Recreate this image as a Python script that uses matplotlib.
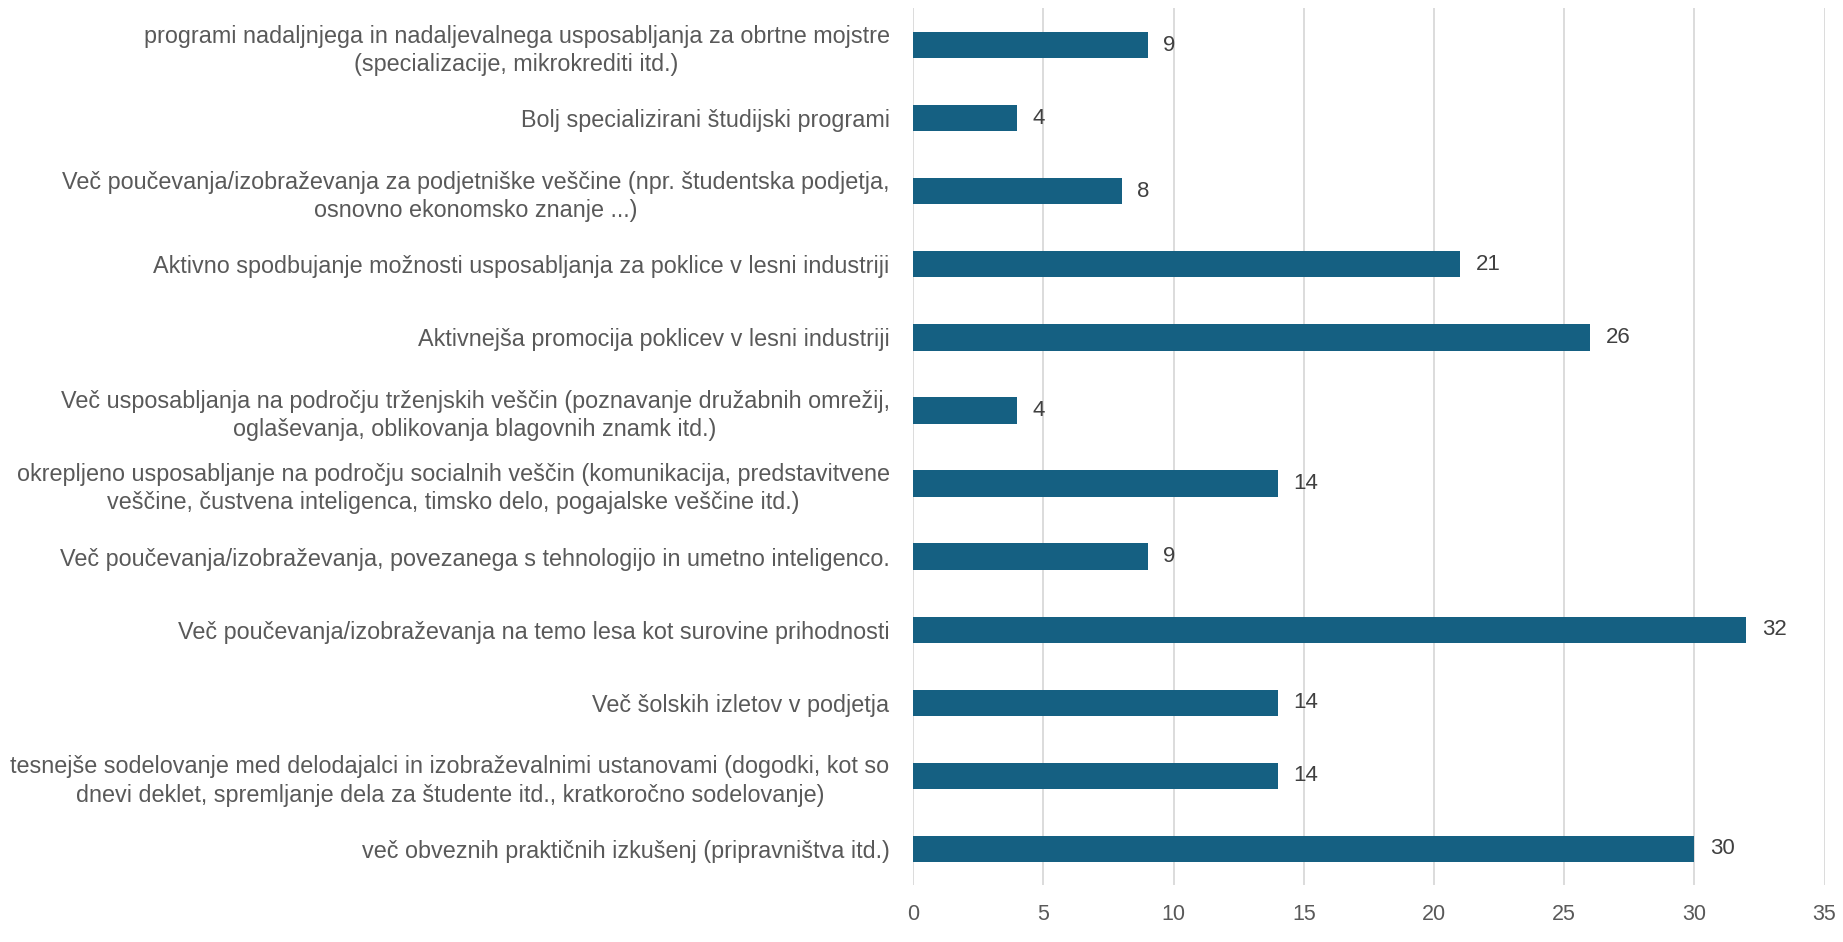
import numpy as np
import matplotlib.pyplot as plt

labels = [
    "programi nadaljnjega in nadaljevalnega usposabljanja za obrtne mojstre\n(specializacije, mikrokrediti itd.)",
    "Bolj specializirani študijski programi",
    "Več poučevanja/izobraževanja za podjetniške veščine (npr. študentska podjetja,\nosnovno ekonomsko znanje ...)",
    "Aktivno spodbujanje možnosti usposabljanja za poklice v lesni industriji",
    "Aktivnejša promocija poklicev v lesni industriji",
    "Več usposabljanja na področju trženjskih veščin (poznavanje družabnih omrežij,\noglaševanja, oblikovanja blagovnih znamk itd.)",
    "okrepljeno usposabljanje na področju socialnih veščin (komunikacija, predstavitvene\nveščine, čustvena inteligenca, timsko delo, pogajalske veščine itd.)",
    "Več poučevanja/izobraževanja, povezanega s tehnologijo in umetno inteligenco.",
    "Več poučevanja/izobraževanja na temo lesa kot surovine prihodnosti",
    "Več šolskih izletov v podjetja",
    "tesnejše sodelovanje med delodajalci in izobraževalnimi ustanovami (dogodki, kot so\ndnevi deklet, spremljanje dela za študente itd., kratkoročno sodelovanje)",
    "več obveznih praktičnih izkušenj (pripravništva itd.)",
]
values = [9, 4, 8, 21, 26, 4, 14, 9, 32, 14, 14, 30]
x_ticks = [0, 5, 10, 15, 20, 25, 30, 35]

plt.rcParams["font.family"] = ["Liberation Sans", "DejaVu Sans"]

text_col = "#595959"
bar_col = "#156082"

fig = plt.figure(figsize=(18.43, 9.42), dpi=100)
ax = fig.add_axes([0.4955, 0.060, 0.4945, 0.931])

y = np.arange(len(values))
ax.barh(y, values, height=0.36, color=bar_col, zorder=3)
for yi, v in zip(y, values):
    ax.text(v + 0.6, yi, str(v), va="center", ha="left", fontsize=16, color="#404040")

ax.set_ylim(len(values) - 0.5, -0.5)
ax.set_xlim(0, 35)
ax.set_xticks(x_ticks)
ax.set_yticks(y)
ax.set_yticklabels(labels, fontsize=16.8, color=text_col, multialignment="center",
                   linespacing=1.3)
ax.tick_params(axis="x", length=0, colors=text_col, labelsize=15.5, pad=13)
ax.tick_params(axis="y", length=0, colors=text_col, pad=17)
ax.grid(axis="x", color="#D9D9D9", linewidth=1.3, zorder=0)
for s in ax.spines.values():
    s.set_visible(False)

fig.savefig("out.png", dpi=100)
